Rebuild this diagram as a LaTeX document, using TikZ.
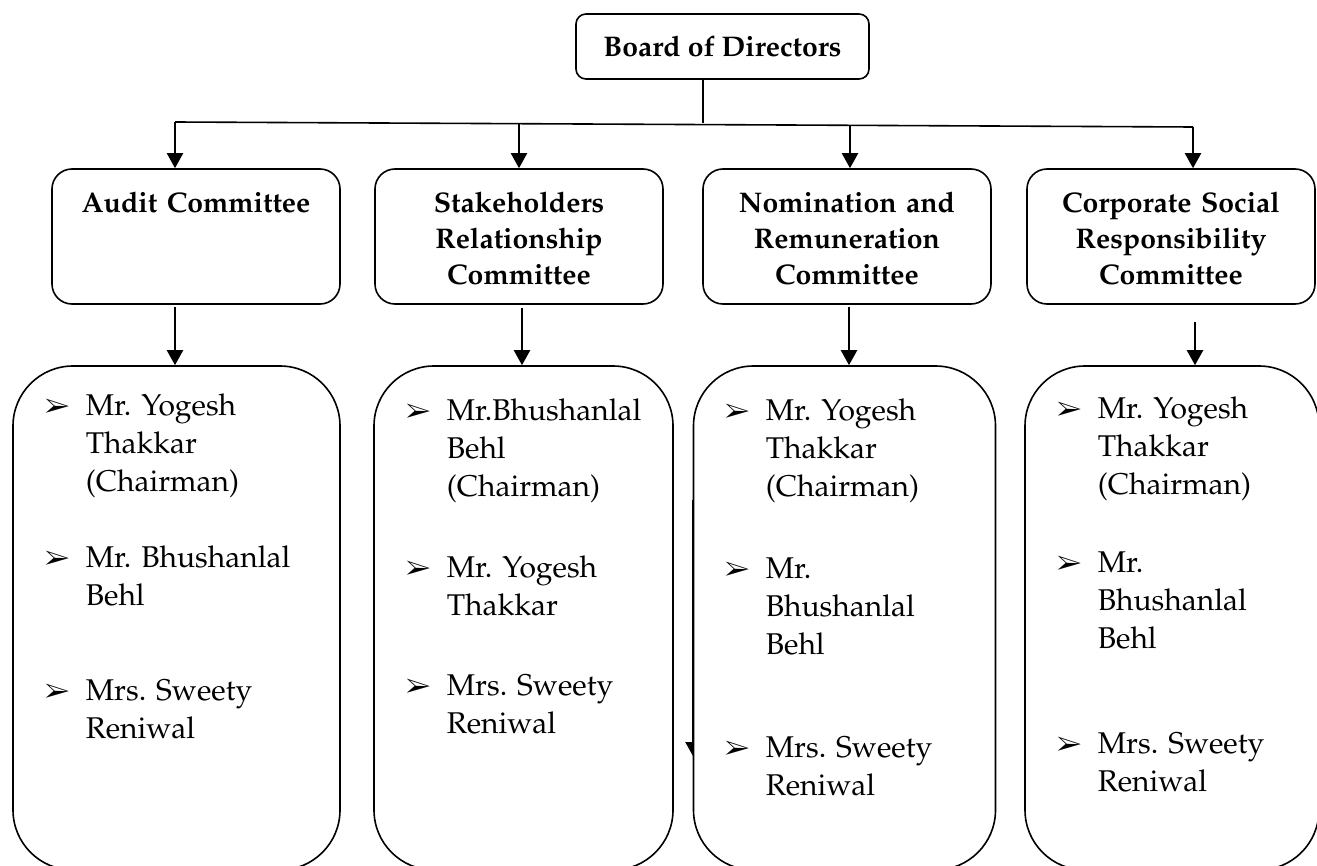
\documentclass[tikz,border=0pt]{standalone}
\usepackage[T1]{fontenc}
\usepackage{mathpazo}
\usepackage{pifont}
\usetikzlibrary{arrows.meta}

\newcommand{\pointer}{\makebox[0pt][r]{\fontsize{13.5}{13.5}\selectfont\ding{226}\hspace{8pt}}}

\begin{document}
\begin{tikzpicture}[x=0.5pt,y=-0.5pt,line width=0.8pt,
board/.style = {draw,rounded corners=5pt,minimum width=146.5pt,minimum height=32.5pt,font=\fontsize{14.2}{18}\selectfont\bfseries},
comm/.style = {draw,rounded corners=10pt,minimum width=144pt,minimum height=67.5pt},
head/.style = {anchor=base,inner sep=0pt,text width=140pt,align=center,font=\fontsize{14.2}{18}\selectfont\bfseries},
members/.style = {draw,fill=white,rounded corners=30pt,minimum height=252pt},
item/.style = {anchor=base west,inner sep=0pt,text width=115pt,align=left,font=\fontsize{15}{19}\selectfont\frenchspacing},
arr/.style = {-{Triangle[length=7.5pt,width=8pt]},line width=1.1pt}]

\useasboundingbox (0,0) rectangle (1317,866);
\clip (0,0) rectangle (1317,866);

\node[board] (b) at (722.5,46.5) {Board of Directors};

\node[comm] (c1) at (196,236.5) {};
\node[comm] (c2) at (519,236.5) {};
\node[comm] (c3) at (847,236.5) {};
\node[comm] (c4) at (1171,236.5) {};
\node[head] (t1) at (196,213) {Audit Committee};
\node[head] (t2) at (519,213) {Stakeholders\\Relationship\\Committee};
\node[head] (t3) at (847,213) {Nomination and\\Remuneration\\Committee};
\node[head] (t4) at (1171,213) {Corporate Social\\Responsibility\\Committee};

\coordinate (jb) at (703,123.4);
\coordinate (j1) at (175,122);
\coordinate (j2) at (519,123.7);
\coordinate (j3) at (850,125.3);
\coordinate (j4) at (1193,127);
\coordinate (d1) at (175,307);
\coordinate (d2) at (522,308);
\coordinate (d3) at (849,307);
\coordinate (d4) at (1195,322);
\coordinate (s1) at (693.5,500);
\coordinate (s2) at (693.5,757);

\draw[line width=0.6pt] (b.south -| jb) -- (jb);
\draw (j1) -- (j4);
\path[arr]
(j1) edge (j1 |- c1.north)
(j2) edge (j2 |- c2.north)
(j3) edge (j3 |- c3.north)
(j4) edge (j4 |- c4.north);
\draw[arr] (s1) -- (s2);

\node[members,minimum width=163.5pt] (m1) at (176.5,618) {};
\node[members,minimum width=149.5pt] (m2) at (523.5,618) {};
\node[members,minimum width=151pt] (m3) at (844.5,618) {};
\node[members,minimum width=147pt] (m4) at (1172,618) {};

\path[arr]
(d1) edge (d1 |- m1.north)
(d2) edge (d2 |- m2.north)
(d3) edge (d3 |- m3.north)
(d4) edge (d4 |- m4.north);

\node[item] (m1a) at (85,415) {\pointer Mr. Yogesh\\Thakkar\\(Chairman)};
\node[item] (m1b) at (85,567) {\pointer Mr. Bhushanlal\\Behl};
\node[item] (m1c) at (85,700) {\pointer Mrs. Sweety\\Reniwal};

\node[item] (m2a) at (446,420) {\pointer Mr.Bhushanlal\\Behl\\(Chairman)};
\node[item] (m2b) at (446,577) {\pointer Mr. Yogesh\\Thakkar};
\node[item] (m2c) at (446,695) {\pointer Mrs. Sweety\\Reniwal};

\node[item] (m3a) at (765,420) {\pointer Mr. Yogesh\\Thakkar\\(Chairman)};
\node[item] (m3b) at (765,578) {\pointer Mr.\\Bhushanlal\\Behl};
\node[item] (m3c) at (765,757) {\pointer Mrs. Sweety\\Reniwal};

\node[item] (m4a) at (1097,418) {\pointer Mr. Yogesh\\Thakkar\\(Chairman)};
\node[item] (m4b) at (1097,572) {\pointer Mr.\\Bhushanlal\\Behl};
\node[item] (m4c) at (1097,753) {\pointer Mrs. Sweety\\Reniwal};
\end{tikzpicture}
\end{document}
